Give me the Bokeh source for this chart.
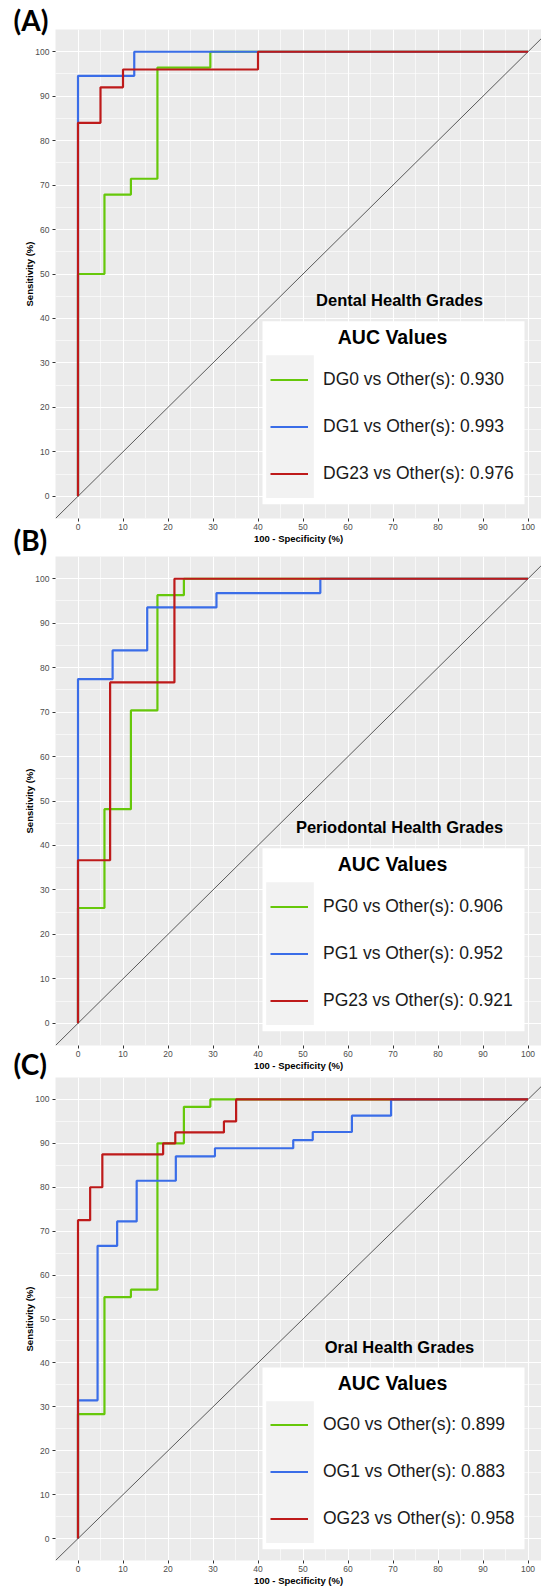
from bokeh.plotting import figure
from bokeh.models import (Legend, LegendItem, Label, BoxAnnotation, Slope,
                          SingleIntervalTicker, Range1d, Title)
from bokeh.layouts import column
from bokeh.embed import file_html
from bokeh.resources import INLINE

# ---------------- data ----------------
panel_tags = ["(A)", "(B)", "(C)"]
panel_titles = ["Dental Health Grades", "Periodontal Health Grades", "Oral Health Grades"]
class_names = [["DG0", "DG1", "DG23"], ["PG0", "PG1", "PG23"], ["OG0", "OG1", "OG23"]]
auc_values = [[0.930, 0.993, 0.976], [0.906, 0.952, 0.921], [0.899, 0.883, 0.958]]

# ROC curves as steps: x = 100 - specificity (%) where sensitivity jumps,
# y = sensitivity (%) after the jump
a0_x = [0, 0, 5.88, 11.76, 17.65, 29.41, 100]
a0_y = [0, 50.00, 67.86, 71.43, 96.43, 100, 100]
a1_x = [0, 0, 12.5, 100]
a1_y = [0, 94.59, 100, 100]
a2_x = [0, 0, 5, 10, 40, 100]
a2_y = [0, 84, 92, 96, 100, 100]

b0_x = [0, 0, 5.88, 11.76, 17.65, 23.53, 100]
b0_y = [0, 25.93, 48.15, 70.37, 96.30, 100, 100]
b1_x = [0, 0, 7.69, 15.38, 30.77, 53.85, 100]
b1_y = [0, 77.42, 83.87, 93.55, 96.77, 100, 100]
b2_x = [0, 0, 7.14, 21.43, 100]
b2_y = [0, 36.67, 76.67, 100, 100]

c0_x = [0, 0, 5.88, 11.76, 17.65, 23.53, 29.41, 100]
c0_y = [0, 28.33, 55.00, 56.67, 90.00, 98.33, 100, 100]
c1_x = [0, 0, 4.35, 8.70, 13.04, 21.74, 30.43, 47.83, 52.17, 60.87, 69.57, 100]
c1_y = [0, 31.48, 66.67, 72.22, 81.48, 87.04, 88.89, 90.74, 92.59, 96.30, 100, 100]
c2_x = [0, 0, 2.70, 5.41, 18.92, 21.62, 32.43, 35.14, 100]
c2_y = [0, 72.5, 80, 87.5, 90, 92.5, 95, 100, 100]

curves = [[(a0_x, a0_y), (a1_x, a1_y), (a2_x, a2_y)],
          [(b0_x, b0_y), (b1_x, b1_y), (b2_x, b2_y)],
          [(c0_x, c0_y), (c1_x, c1_y), (c2_x, c2_y)]]

colors = ["#66C80A", "#3A6DE8", "#BE1A1A"]

# ---------------- layout ----------------
W = 541
LEFT = 55
TOP = 40                          # top border holding the panel tag
H_FRAMES = [489, 489, 486]
BOTTOMS = [28, 28, 25]
FRAME_TOPS = [29, 556, 1077]      # page y of each frame top
MARGINS = []
prev_bottom = 0
for k in range(3):
    MARGINS.append(FRAME_TOPS[k] - TOP - prev_bottom)
    prev_bottom = FRAME_TOPS[k] + H_FRAMES[k] + BOTTOMS[k]
TAG_STANDOFF = [-14, 0, -6]
X0 = -5
Y0, Y1 = -5, 105
FW = W - LEFT
X1 = X0 + FW / 4.5
FONT = "Liberation Sans"


def dx(px):
    return X0 + px * (X1 - X0) / FW


def dy(py, hf):
    return Y1 - py * (Y1 - Y0) / hf


figs = []
for i in range(3):
    hf = H_FRAMES[i]
    h = TOP + hf + BOTTOMS[i]
    p = figure(width=W, height=h, x_range=Range1d(X0, X1), y_range=Range1d(Y0, Y1),
               output_backend="svg", toolbar_location=None,
               min_border_left=LEFT, min_border_right=0,
               min_border_top=TOP, min_border_bottom=BOTTOMS[i],
               background_fill_color="#EBEBEB", border_fill_color="white",
               border_fill_alpha=0, outline_line_color=None,
               margin=(MARGINS[i], 0, 0, 0))
    p.add_layout(Title(text=panel_tags[i], align="left", offset=13 - LEFT,
                       text_font="Lato", text_font_style="bold", text_font_size="28px",
                       text_color="black", standoff=TAG_STANDOFF[i],
                       vertical_align="bottom"), "above")
    for ax in (p.xaxis[0], p.yaxis[0]):
        ax.ticker = SingleIntervalTicker(interval=10, num_minor_ticks=2)
        ax.axis_line_color = None
        ax.major_tick_line_color = "#333333"
        ax.major_tick_out = 3
        ax.major_tick_in = 0
        ax.minor_tick_line_color = None
        ax.major_label_text_color = "#4D4D4D"
        ax.major_label_text_font = FONT
        ax.major_label_text_font_size = "8.5px"
        ax.axis_label_text_font = FONT
        ax.axis_label_text_font_style = "bold"
        ax.axis_label_text_font_size = "9.5px"
        ax.axis_label_text_color = "black"
    p.xaxis.axis_label = "100 - Specificity (%)"
    p.yaxis.axis_label = "Sensitivity (%)"
    p.xaxis.major_label_standoff = 1
    p.yaxis.major_label_standoff = 2
    p.xaxis.axis_label_standoff = 0
    p.yaxis.axis_label_standoff = -3
    for g in (p.xgrid[0], p.ygrid[0]):
        g.grid_line_color = "white"
        g.grid_line_width = 1.1
        g.minor_grid_line_color = "white"
        g.minor_grid_line_width = 0.6

    p.add_layout(Slope(gradient=1, y_intercept=0, line_color="#333333",
                       line_width=0.8, level="underlay"))

    rends = []
    for (xs, ys), col in zip(curves[i], colors):
        r = p.step(xs, ys, mode="after", line_color=col, line_width=2.2)
        rends.append(r)

    # legend geometry (pixels from frame left / frame top)
    bx, by, bw, bh = 207, 291.7, 262, 183
    p.add_layout(BoxAnnotation(left=dx(bx), right=dx(bx + bw), top=dy(by, hf),
                               bottom=dy(by + bh, hf),
                               fill_color="white", fill_alpha=1, line_color=None))
    p.add_layout(BoxAnnotation(left=dx(bx + 3.7), right=dx(bx + 51.3), top=dy(by + 34, hf),
                               bottom=dy(by + bh - 6.3, hf),
                               fill_color="#F2F2F2", fill_alpha=1, line_color=None))
    items = [LegendItem(label=f"{n} vs Other(s): {a:.3f}", renderers=[r])
             for n, a, r in zip(class_names[i], auc_values[i], rends)]
    item_h = 47.3
    leg_top = by + 58.3 - item_h / 2
    leg = Legend(items=items, location=(bx + 8, hf - (leg_top + 3 * item_h)),
                 padding=0, margin=0, spacing=0, glyph_width=38, glyph_height=47,
                 label_height=47, label_standoff=15,
                 label_text_font=FONT, label_text_font_size="17.5px",
                 label_text_color="#1A1A1A",
                 background_fill_alpha=0, border_line_color=None,
                 click_policy="none")
    p.add_layout(leg)
    p.add_layout(Label(x=dx(bx + 130), y=dy(by + 15.7, hf), text="AUC Values",
                       text_font=FONT, text_font_style="bold", text_font_size="19.5px",
                       text_align="center", text_baseline="middle", text_color="black"))
    p.add_layout(Label(x=dx(bx + 137), y=dy(by - 21, hf), text=panel_titles[i],
                       text_font=FONT, text_font_style="bold", text_font_size="16.5px",
                       text_align="center", text_baseline="middle", text_color="black"))
    figs.append(p)

layout = column(*figs, spacing=0)
open("out.html", "w").write(file_html(layout, INLINE))
